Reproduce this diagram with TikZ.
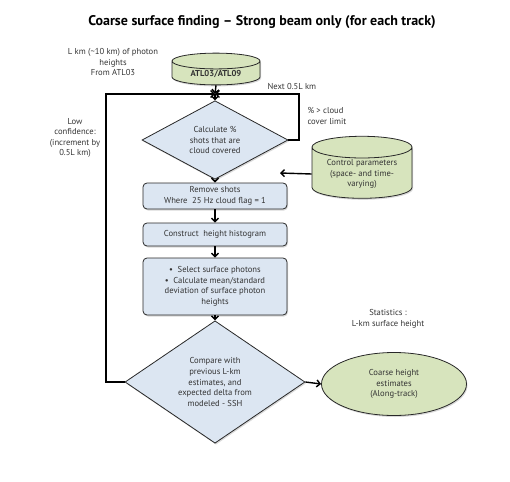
\documentclass[tikz,border=0pt]{standalone}
\usepackage{fontspec}
\setmainfont{PT Sans}
\usetikzlibrary{shapes.geometric,arrows.meta,shadows}
\definecolor{boxblue}{RGB}{220,230,242}
\definecolor{boxgreen}{RGB}{215,228,189}
\definecolor{edge}{RGB}{40,40,40}
\begin{document}
\begin{tikzpicture}[x=1pt,y=-1pt,
  shd/.style={drop shadow={opacity=0.3,shadow xshift=1pt,shadow yshift=-1.5pt}},
  txt/.style={font=\fontsize{8.6}{10.6}\selectfont, align=center, text=black!80},
  procbox/.style={txt, draw=edge, line width=0.8pt, fill=boxblue, rounded corners=4pt, minimum width=144pt, shd},
  decision/.style={txt, diamond, draw=edge, line width=0.8pt, fill=boxblue, inner sep=0pt, shd},
  store/.style={txt, cylinder, shape border rotate=90, draw=edge, line width=0.8pt, fill=boxgreen, inner sep=1pt, shd},
  flow/.style={line width=1.4pt, -{Straight Barb[length=3.5pt,width=7pt]}},
]
\useasboundingbox (0,0) rectangle (510,481);
\node[font=\fontsize{14}{16}\selectfont\bfseries] (title) at (262,22) {Coarse surface finding -- Strong beam only (for each track)};
\node[txt] (lkm) at (113,62) {L km (\textasciitilde10 km) of photon\\heights\\From ATL03};
\node[store, minimum width=88pt, minimum height=28pt, aspect=0.3, font=\fontsize{8.6}{10}\selectfont\bfseries] (atl) at (216,74) {ATL03/ATL09};
\node[txt, anchor=west] (next) at (264,86) {Next 0.5L km};
\coordinate (J) at (215,94);
\node[decision, minimum width=146pt, minimum height=64pt] (d1) at (215,140) {Calculate \%\\shots that are\\cloud covered};
\node[txt, align=left, anchor=west] (pct) at (304,116) {\% > cloud\\cover limit};
\node[store, minimum width=100pt, minimum height=52pt, aspect=0.3] (ctrl) at (362,174) {Control parameters\\(space- and time-\\varying)};
\coordinate (ctrlend) at (280,173);
\node[procbox, minimum height=26pt] (b1) at (215,196) {Remove shots\\Where \ 25 Hz cloud flag = 1};
\node[procbox, minimum height=23pt] (b2) at (215,234.5) {Construct \ height histogram};
\node[procbox, minimum height=57pt] (b3) at (215,286.5) {\textbullet\ \ Select surface photons\\\textbullet\ \ Calculate mean/standard\\deviation of surface photon\\heights};
\node[decision, minimum width=180pt, minimum height=111pt] (d2) at (215,382) {Compare with\\previous L-km\\estimates, and\\expected delta from\\modeled - SSH};
\node[txt, ellipse, draw=edge, line width=0.8pt, fill=boxgreen, minimum width=145pt, minimum height=63pt, shd] (ell) at (394,384) {Coarse height\\estimates\\(Along-track)};
\node[txt] (stats) at (388,319) {Statistics :\\L-km surface height};
\node[txt] (low) at (75,138) {Low\\confidence:\\(increment by\\0.5L km)};
% connectors
\draw[flow] (atl.bottom) -- (J);
\draw[flow] (d2.west) -| (106,94) -- (J);
\draw[flow] (d1.east) -| (299,94) -- (J);
\draw[flow] (J) -- (d1.north);
\draw[flow] (ctrl.west) -- (ctrlend);
\draw[flow] (d1.south) -- (b1.north);
\draw[flow] (b1.south) -- (b2.north);
\draw[flow] (b2.south) -- (b3.north);
\draw[flow] (b3.south) -- (d2.north);
\draw[flow] (d2.east) -- (ell.west);
\end{tikzpicture}
\end{document}
